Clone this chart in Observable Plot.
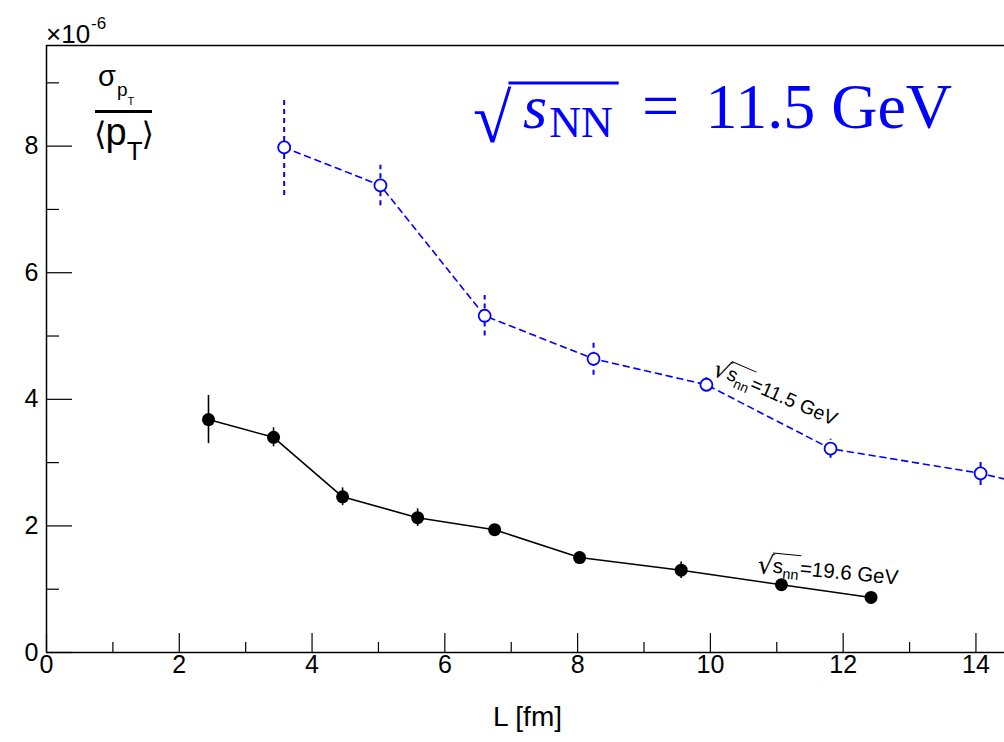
<!DOCTYPE html>
<html><head><meta charset="utf-8">
<script src="https://cdn.jsdelivr.net/npm/d3@7"></script>
<script src="https://cdn.jsdelivr.net/npm/@observablehq/plot@0.6"></script>
<style>html,body{margin:0;padding:0;background:#fff}svg{display:block}</style>
</head><body><div id="chart"></div>
<script>
// sqrt(s_nn) = 19.6 GeV (black, filled)
const L196 = [2.44, 3.42, 4.46, 5.59, 6.75, 8.03, 9.56, 11.07, 12.42];
const S196 = [3.68, 3.40, 2.46, 2.13, 1.94, 1.50, 1.30, 1.07, 0.87];
const E196 = [0.38, 0.15, 0.14, 0.14, 0.06, 0.06, 0.13, 0.06, 0.05];
// sqrt(s_nn) = 11.5 GeV (blue, open, dashed)
const L115 = [3.58, 5.03, 6.60, 8.24, 9.94, 11.81, 14.07, 15.80];
const S115 = [7.98, 7.38, 5.32, 4.64, 4.23, 3.22, 2.83, 2.40];
const E115 = [0.76, 0.32, 0.32, 0.26, 0.11, 0.15, 0.19, 0.20];
// axis ticks
const xMajor = [0, 2, 4, 6, 8, 10, 12, 14];
const xMinor = [1, 3, 5, 7, 9, 11, 13];
const yMajor = [0, 2, 4, 6, 8];
const yMinor = [1, 3, 5, 7, 9];
const xDomain = [0, 14.43];
const yDomain = [0, 9.59];

const dataB = L196.map((x, i) => ({x, y: S196[i], e: E196[i]}));
const dataR = L115.map((x, i) => ({x, y: S115[i], e: E115[i]}));

const W = 1004, H = 742, mL = 46, mR = 0, mT = 45, mB = 90;
const pw = W - mL - mR, ph = H - mT - mB;
const SANS = "Liberation Sans, Arial, Helvetica, sans-serif";
const SERIF = "Liberation Serif, Times New Roman, serif";

const chart = Plot.plot({
  width: W, height: H,
  marginLeft: mL, marginRight: mR, marginTop: mT, marginBottom: mB,
  x: {domain: xDomain, axis: null},
  y: {domain: yDomain, axis: null},
  style: {fontFamily: SANS, background: "white", color: "black"},
  marks: [
    Plot.ruleX([xDomain[0]], {stroke: "black", strokeWidth: 1.5}),
    Plot.ruleY([yDomain[0], yDomain[1]], {stroke: "black", strokeWidth: 1.5}),
    Plot.tickX(xMajor, {x: d => d, insetTop: ph - 19, stroke: "black", strokeWidth: 1.2}),
    Plot.tickX(xMinor, {x: d => d, insetTop: ph - 10, stroke: "black", strokeWidth: 1.2}),
    Plot.tickY(yMajor, {y: d => d, insetRight: pw - 26, stroke: "black", strokeWidth: 1.2}),
    Plot.tickY(yMinor, {y: d => d, insetRight: pw - 13, stroke: "black", strokeWidth: 1.2}),
    Plot.text(xMajor, {x: d => d, text: d => String(d), frameAnchor: "bottom", dy: 20, fontSize: 25, fill: "black"}),
    Plot.text(yMajor, {y: d => d, text: d => String(d), frameAnchor: "left", dx: -8, textAnchor: "end", fontSize: 25, fill: "black"}),
    Plot.text(["L [fm]"], {frameAnchor: "bottom", dx: 2, dy: 73, fontSize: 28, fill: "black"}),
    Plot.ruleX(dataB, {x: "x", y1: d => d.y - d.e, y2: d => d.y + d.e, stroke: "black", strokeWidth: 1.6}),
    Plot.line(dataB, {x: "x", y: "y", stroke: "black", strokeWidth: 1.6}),
    Plot.dot(dataB, {x: "x", y: "y", r: 6.5, fill: "black", stroke: "none"}),
    Plot.ruleX(dataR, {x: "x", y1: d => d.y - d.e, y2: d => d.y + d.e, stroke: "#0000ff", strokeWidth: 2, strokeDasharray: "5,4", clip: true}),
    Plot.line(dataR, {x: "x", y: "y", stroke: "#0000ff", strokeWidth: 1.6, strokeDasharray: "6,5", clip: true}),
    Plot.dot(dataR, {x: "x", y: "y", r: 6, fill: "white", stroke: "#0000ff", strokeWidth: 1.8, clip: true})
  ]
});
document.getElementById("chart").appendChild(chart);

// ---------- annotations (rich text) ----------
const svg = d3.select(chart);
const ann = svg.append("g").attr("class", "annotations").attr("text-anchor", "start");

function seq(g, x, y, parts, common) {
  let cx = x;
  const out = [];
  for (const p of parts) {
    const x0 = cx + (p.dx || 0);
    const el = g.append("text")
      .attr("x", x0).attr("y", y + (p.dy || 0))
      .attr("text-anchor", "start")
      .attr("font-size", p.size)
      .attr("font-family", p.family || common.family)
      .attr("font-style", p.style || null)
      .attr("fill", common.fill)
      .text(p.t);
    const w = el.node().getComputedTextLength();
    out.push({x0, x1: x0 + w});
    cx = x0 + w;
  }
  return out;
}

// x10^-6 exponent
seq(ann, 46, 43, [
  {t: "\u00d710", size: 26},
  {t: "-6", size: 17, dy: -14, dx: 1}
], {family: SANS, fill: "black"});

// y-axis title: sigma_pT / <pT>
seq(ann, 98, 86, [
  {t: "\u03c3", size: 29},
  {t: "p", size: 19, dy: 10, dx: 1},
  {t: "T", size: 11, dy: 19, dx: 0}
], {family: SANS, fill: "black"});
ann.append("line").attr("x1", 95).attr("x2", 152).attr("y1", 111.5).attr("y2", 111.5)
  .attr("stroke", "black").attr("stroke-width", 3);
seq(ann, 94, 145, [
  {t: "\u27e8", size: 32, family: "DejaVu Sans, " + SANS},
  {t: "p", size: 38, dx: -1},
  {t: "T", size: 26, dy: 15, dx: 0},
  {t: "\u27e9", size: 32, family: "DejaVu Sans, " + SANS, dx: -1}
], {family: SANS, fill: "black"});

// Big title: sqrt(s_NN) = 11.5 GeV
const tg = ann.append("g");
const rad = seq(tg, 473, 142, [{t: "\u221a", size: 70}], {family: SERIF, fill: "#0000ff"});
const sn = seq(tg, 523, 128, [
  {t: "s", size: 62, style: "italic"},
  {t: "NN", size: 44, dy: 9, dx: 2}
], {family: SERIF, fill: "#0000ff"});
tg.append("line").attr("x1", rad[0].x1 - 3).attr("x2", sn[1].x1 + 6)
  .attr("y1", 83).attr("y2", 83).attr("stroke", "#0000ff").attr("stroke-width", 3);
seq(tg, 642, 128, [{t: "=", size: 66}], {family: SERIF, fill: "#0000ff"});
tg.append("text").attr("x", 952).attr("y", 128).attr("text-anchor", "end")
  .attr("font-size", 64).attr("font-family", SERIF).attr("fill", "#0000ff").text("11.5 GeV");

// Rotated curve labels
function curveLabel(x, y, angle, value, fs) {
  const g = ann.append("g").attr("transform", `translate(${x},${y}) rotate(${angle})`);
  const r = seq(g, 0, 2, [{t: "\u221a", size: fs + 5, family: "DejaVu Sans, " + SANS}], {family: SANS, fill: "black"});
  const p = seq(g, r[0].x1 - 1, 0, [
    {t: "s", size: fs},
    {t: "nn", size: fs - 6, dy: 5},
    {t: "=" + value + " GeV", size: fs, dx: 1}
  ], {family: SANS, fill: "black"});
  g.append("line").attr("x1", r[0].x1 - 2).attr("x2", p[1].x1 + 1)
    .attr("y1", -fs + 1).attr("y2", -fs + 1).attr("stroke", "black").attr("stroke-width", 1);
}
curveLabel(712, 373, 23.5, "11.5", 19.5);
curveLabel(757, 571, 5.5, "19.6", 20.5);
</script>
</body></html>
